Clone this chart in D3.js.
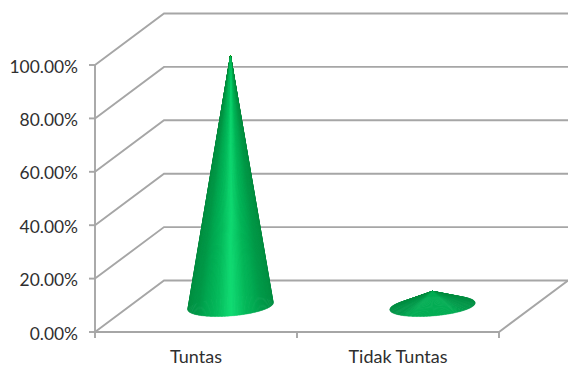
<!DOCTYPE html>
<html>
<head>
<meta charset="utf-8">
<script src="https://cdn.jsdelivr.net/npm/d3@7/dist/d3.min.js"></script>
<style>
html,body{margin:0;padding:0;background:#fff}
svg{display:block}
text{font-family:Lato,"Open Sans",sans-serif;fill:#2f2f2f}
</style>
</head>
<body>
<svg id="chart" width="568" height="365"></svg>
<script>
const categories = ["Tuntas", "Tidak Tuntas"];
const shares = [93.75, 5.6];
const valueTicks = [0, 20, 40, 60, 80, 100];

const svg = d3.select("#chart");
const gridColor = "#a6a6a6";

// Front plane of the oblique box and the offset to its back wall
const plotLeft = 95, plotRight = 499, floorY = 332, topY = 65;
const depthX = 69, depthY = -51.5;
const coneRatio = 0.4;

const x = d3.scaleBand().domain(categories).range([plotLeft, plotRight]);
const y = d3.scaleLinear().domain([0, 100]).range([floorY, topY]);

// Walls: gridlines run along the side wall and then the back wall
const grid = svg.append("g").attr("fill", "none").attr("stroke", gridColor).attr("stroke-width", 1.9);
grid.selectAll("path").data(valueTicks).join("path")
  .attr("d", v => {
    const p = d3.path();
    p.moveTo(plotLeft, y(v));
    p.lineTo(plotLeft + depthX, y(v) + depthY);
    p.lineTo(plotRight + depthX, y(v) + depthY);
    return p.toString();
  });

// Front edge of the floor and its closing edge on the right
const floor = d3.path();
floor.moveTo(plotLeft, floorY);
floor.lineTo(plotRight, floorY);
floor.lineTo(plotRight + depthX, floorY + depthY);
grid.append("path").attr("d", floor.toString());

// Value axis
grid.append("line").attr("x1", plotLeft).attr("x2", plotLeft).attr("y1", topY).attr("y2", floorY);
grid.selectAll("line.tick").data(valueTicks).join("line").attr("class", "tick")
  .attr("x1", plotLeft - 6).attr("x2", plotLeft)
  .attr("y1", v => y(v)).attr("y2", v => y(v));

svg.append("g").selectAll("text").data(valueTicks).join("text")
  .attr("x", 78).attr("y", v => y(v) + 1.5).attr("dy", "0.35em")
  .attr("text-anchor", "end").attr("font-size", 17.4)
  .text(v => d3.format(".2f")(v) + "%");

// Category axis
const catEdges = [plotLeft, ...categories.map(c => x(c) + x.bandwidth())];
grid.selectAll("line.cat").data(catEdges).join("line").attr("class", "cat")
  .attr("x1", d => d).attr("x2", d => d).attr("y1", floorY).attr("y2", floorY + 6);

svg.append("g").selectAll("text").data(categories).join("text")
  .attr("x", c => x(c) + x.bandwidth() / 2).attr("y", 363).attr("text-anchor", "middle")
  .attr("font-size", 18).text(c => c);

// Surface shade of the cone by azimuth: bright facing the viewer, dark at the flanks
const shade = d3.scaleLinear()
  .domain([0, 0.22, 0.55, 1])
  .range(["#12dc74", "#06b95b", "#009a49", "#008d42"]);

const slices = 180;
function coneSlices(cat, value) {
  const a = coneRatio * x.bandwidth() / 2;
  const bx = coneRatio * depthX / 2, by = coneRatio * depthY / 2;
  const cx = x(cat) + x.bandwidth() / 2 + depthX / 2;
  const cy = floorY + depthY / 2;
  const height = floorY - y(value);
  const apexY = cy - height;
  const front = -Math.atan2(a, bx);
  // Shallow cones catch less of the highlight
  const steep = Math.min(1, height / a);
  const floorLit = 0.55 * (1 - steep);
  const pt = t => [cx + a * Math.cos(t) + bx * Math.sin(t), cy + by * Math.sin(t)];
  return d3.range(slices).map(i => {
    const t0 = i / slices * 2 * Math.PI, t1 = (i + 1.5) / slices * 2 * Math.PI;
    const mid = (t0 + t1) / 2;
    const lit = Math.abs(Math.atan2(Math.sin(mid - front), Math.cos(mid - front))) / (Math.PI / 2);
    return { apex: [cx, apexY], p0: pt(t0), p1: pt(t1), depth: -Math.sin(mid), lit: Math.max(floorLit, Math.min(lit, 1)) };
  }).sort((p, q) => p.depth - q.depth);
}

const cones = svg.append("g");
categories.forEach((c, i) => {
  cones.append("g").selectAll("path").data(coneSlices(c, shares[i])).join("path")
    .attr("d", s => d3.line()([s.apex, s.p0, s.p1]) + "Z")
    .attr("fill", s => shade(s.lit))
    .attr("stroke", s => shade(s.lit))
    .attr("stroke-width", 0.25);
});
</script>
</body>
</html>
